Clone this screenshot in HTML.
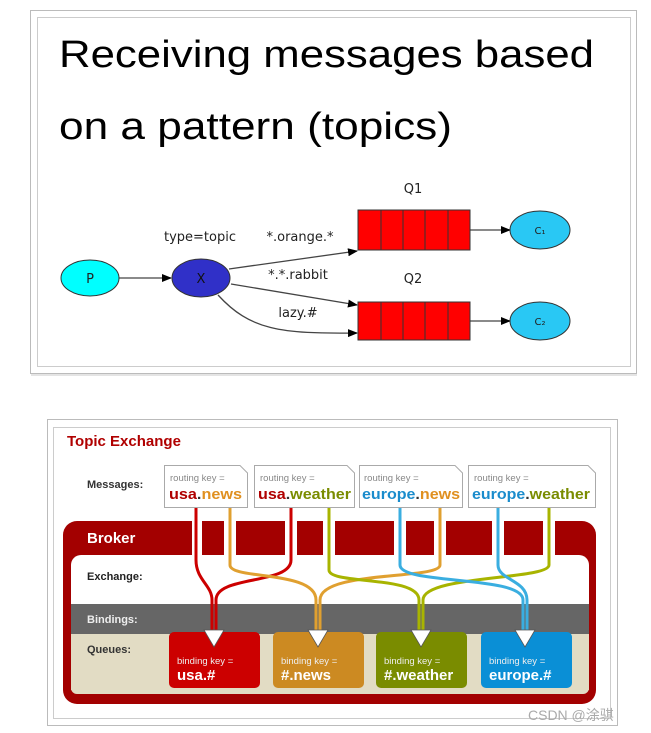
<!DOCTYPE html>
<html><head><meta charset="utf-8"><style>html,body{margin:0;padding:0;background:#fff}svg{display:block}</style></head>
<body>
<svg width="651" height="733" viewBox="0 0 651 733" xmlns="http://www.w3.org/2000/svg" font-family="Liberation Sans, sans-serif">
<defs>
<marker id="ar" markerWidth="10" markerHeight="8" refX="9" refY="4" orient="auto" markerUnits="userSpaceOnUse"><path d="M0,0 L10,4 L0,8 z" fill="#000"/></marker>
</defs>
<rect x="30.5" y="10.5" width="606" height="363" fill="#fff" stroke="#bbb"/>
<rect x="37.5" y="17.5" width="593" height="349" fill="#fff" stroke="#ccc"/>
<line x1="31" y1="375" x2="637" y2="375" stroke="#e4e4e4" stroke-width="2"/>
<text x="59" y="67" font-size="38" fill="#000" textLength="535" lengthAdjust="spacingAndGlyphs">Receiving messages based</text>
<text x="59" y="139" font-size="38" fill="#000" textLength="393" lengthAdjust="spacingAndGlyphs">on a pattern (topics)</text>
<g stroke="#444" stroke-width="1.3" fill="none">
<line x1="119" y1="278" x2="171" y2="278" marker-end="url(#ar)"/>
<line x1="229" y1="269" x2="357" y2="251" marker-end="url(#ar)"/>
<line x1="231" y1="284" x2="357" y2="305" marker-end="url(#ar)"/>
<path d="M218,295 C250,330 280,334 357,333" marker-end="url(#ar)"/>
<line x1="470" y1="230" x2="510" y2="230" marker-end="url(#ar)"/>
<line x1="470" y1="321" x2="510" y2="321" marker-end="url(#ar)"/>
</g>
<ellipse cx="90" cy="278" rx="29" ry="18" fill="#00ffff" stroke="#333"/>
<ellipse cx="201" cy="278" rx="29" ry="19" fill="#3030c8" stroke="#333"/>
<ellipse cx="540" cy="230" rx="30" ry="19" fill="#29c8f4" stroke="#333"/>
<ellipse cx="540" cy="321" rx="30" ry="19" fill="#29c8f4" stroke="#333"/>
<g fill="#ff0000" stroke="#333">
<rect x="358" y="210" width="112" height="40"/>
<rect x="358" y="302" width="112" height="38"/>
</g>
<g stroke="#333">
<line x1="381" y1="210" x2="381" y2="250"/><line x1="403" y1="210" x2="403" y2="250"/><line x1="425" y1="210" x2="425" y2="250"/><line x1="448" y1="210" x2="448" y2="250"/>
<line x1="381" y1="302" x2="381" y2="340"/><line x1="403" y1="302" x2="403" y2="340"/><line x1="425" y1="302" x2="425" y2="340"/><line x1="448" y1="302" x2="448" y2="340"/>
</g>
<g font-family="DejaVu Sans, sans-serif" font-size="13" fill="#222" text-anchor="middle">
<text x="90" y="283">P</text><text x="201" y="283" fill="#111">X</text>
<text x="540" y="234" font-size="10">C₁</text><text x="540" y="325" font-size="10">C₂</text>
<text x="413" y="193">Q1</text><text x="413" y="283">Q2</text>
<text x="200" y="241">type=topic</text>
<text x="300" y="241">*.orange.*</text>
<text x="298" y="279">*.*.rabbit</text>
<text x="298" y="317">lazy.#</text>
</g>

<rect x="47.5" y="419.5" width="570" height="306" fill="#fff" stroke="#bbb"/>
<rect x="53.5" y="427.5" width="557" height="291" fill="#fff" stroke="#ccc"/>
<text x="67" y="446" font-size="15" font-weight="bold" fill="#b00000">Topic Exchange</text>
<text x="87" y="488" font-size="11" font-weight="bold" fill="#333">Messages:</text>

<rect x="63" y="521" width="533" height="183" rx="14" fill="#a30000"/>
<rect x="71" y="555" width="518" height="70" rx="10" fill="#fff"/>
<rect x="71" y="604" width="518" height="30" fill="#666"/>
<rect x="71" y="634" width="518" height="56" fill="#e2dcc4"/>
<rect x="71" y="680" width="518" height="14" rx="6" fill="#e2dcc4"/>
<g fill="#fff">
<rect x="192" y="521" width="10" height="34"/><rect x="224" y="521" width="12" height="34"/>
<rect x="285" y="521" width="12" height="34"/><rect x="323" y="521" width="12" height="34"/>
<rect x="394" y="521" width="12" height="34"/><rect x="434" y="521" width="12" height="34"/>
<rect x="492" y="521" width="12" height="34"/><rect x="543" y="521" width="12" height="34"/>
</g>
<text x="87" y="543" font-size="15" font-weight="bold" fill="#fff">Broker</text>
<text x="87" y="580" font-size="11" font-weight="bold" fill="#222">Exchange:</text>
<text x="87" y="623" font-size="11" font-weight="bold" fill="#eee">Bindings:</text>
<text x="87" y="653" font-size="11" font-weight="bold" fill="#333">Queues:</text>

<rect x="169" y="632" width="91" height="56" rx="5" fill="#cc0000"/>
<rect x="273" y="632" width="91" height="56" rx="5" fill="#cc8a22"/>
<rect x="376" y="632" width="91" height="56" rx="5" fill="#7a8c00"/>
<rect x="481" y="632" width="91" height="56" rx="5" fill="#0a8fd6"/>
<g fill="#eee" font-size="9.5"><text x="177" y="664">binding key =</text><text x="281" y="664">binding key =</text><text x="384" y="664">binding key =</text><text x="489" y="664">binding key =</text></g>
<g fill="#fff" font-size="15" font-weight="bold"><text x="177" y="680">usa.#</text><text x="281" y="680">#.news</text><text x="384" y="680">#.weather</text><text x="489" y="680">europe.#</text></g>

<g fill="none" stroke-width="3">
<path d="M196,507 L196,560 C196,580 212,585 212,600 L212,632" stroke="#cc0000"/>
<path d="M291,507 L291,560 C291,585 216,575 216,600 L216,632" stroke="#cc0000"/>
<path d="M230,507 L230,565 C230,580 316,570 316,600 L316,632" stroke="#e0a030"/>
<path d="M440,507 L440,565 C440,580 320,570 320,600 L320,632" stroke="#e0a030"/>
<path d="M329,507 L329,570 C329,585 419,575 419,600 L419,632" stroke="#a8b400"/>
<path d="M549,507 L549,565 C549,580 423,575 423,600 L423,632" stroke="#a8b400"/>
<path d="M400,507 L400,565 C400,585 523,575 523,600 L523,632" stroke="#3aaee0"/>
<path d="M498,507 L498,565 C498,580 527,580 527,600 L527,632" stroke="#3aaee0"/>
</g>
<g fill="#fff" stroke="#555" stroke-width="0.8">
<path d="M204,630 L224,630 L214,647 z"/><path d="M308,630 L328,630 L318,647 z"/>
<path d="M411,630 L431,630 L421,647 z"/><path d="M515,630 L535,630 L525,647 z"/>
</g>

<g fill="#fff" stroke="#aaa">
<path d="M164.5,465.5 H240 L247.5,473 V507.5 H164.5 z"/>
<path d="M254.5,465.5 H347 L354.5,473 V507.5 H254.5 z"/>
<path d="M359.5,465.5 H455 L462.5,473 V507.5 H359.5 z"/>
<path d="M468.5,465.5 H588 L595.5,473 V507.5 H468.5 z"/>
</g>
<g fill="#888" font-size="9.5"><text x="170" y="481">routing key =</text><text x="260" y="481">routing key =</text><text x="364" y="481">routing key =</text><text x="474" y="481">routing key =</text></g>
<g font-size="15" font-weight="bold">
<text x="169" y="499" textLength="73" lengthAdjust="spacingAndGlyphs"><tspan fill="#b00000">usa</tspan><tspan fill="#333">.</tspan><tspan fill="#e09020">news</tspan></text>
<text x="258" y="499" textLength="93" lengthAdjust="spacingAndGlyphs"><tspan fill="#b00000">usa</tspan><tspan fill="#333">.</tspan><tspan fill="#7a8c00">weather</tspan></text>
<text x="362" y="499" textLength="98" lengthAdjust="spacingAndGlyphs"><tspan fill="#1a8ccc">europe</tspan><tspan fill="#333">.</tspan><tspan fill="#e09020">news</tspan></text>
<text x="472" y="499" textLength="118" lengthAdjust="spacingAndGlyphs"><tspan fill="#1a8ccc">europe</tspan><tspan fill="#333">.</tspan><tspan fill="#7a8c00">weather</tspan></text>
</g>
<text x="528" y="720" font-size="14" fill="#aaa" font-family="Liberation Sans, Noto Sans CJK SC, sans-serif">CSDN @涂骐</text>
</svg>
</body></html>
